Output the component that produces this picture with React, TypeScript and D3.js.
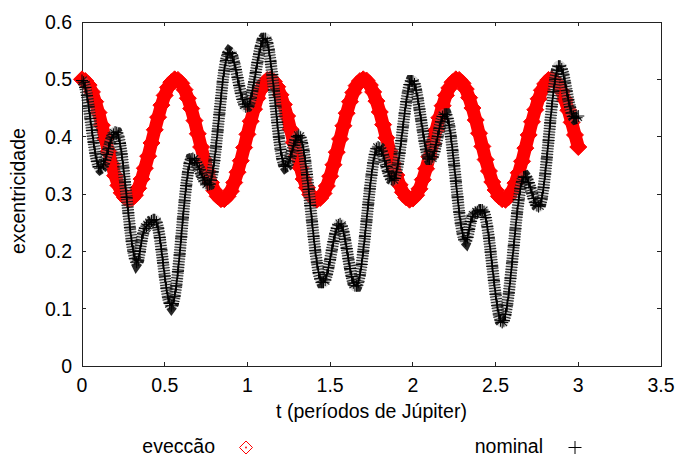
import React from 'react';
import * as d3 from 'd3';

const X_TICKS = [0, 0.5, 1, 1.5, 2, 2.5, 3, 3.5];
const Y_TICKS = [0, 0.1, 0.2, 0.3, 0.4, 0.5, 0.6];
const X_LABEL = 't (períodos de Júpiter)';
const Y_LABEL = 'excentricidade';
const SERIES_NAMES = ['eveccão', 'nominal'];

// eveccão: sampled every 0.02 from t = 0
const EVECCAO_DT = 0.02;
const EVECCAO = [
  0.500, 0.497, 0.490, 0.478, 0.461, 0.442, 0.420, 0.397, 0.374, 0.352,
  0.332, 0.315, 0.302, 0.294, 0.290, 0.292, 0.298, 0.310, 0.326, 0.345,
  0.366, 0.389, 0.412, 0.434, 0.455, 0.472, 0.486, 0.495, 0.500, 0.499,
  0.493, 0.482, 0.467, 0.449, 0.428, 0.405, 0.382, 0.359, 0.339, 0.320,
  0.306, 0.296, 0.291, 0.291, 0.296, 0.305, 0.320, 0.338, 0.358, 0.381,
  0.404, 0.427, 0.448, 0.467, 0.482, 0.493, 0.499, 0.500, 0.496, 0.487,
  0.473, 0.456, 0.436, 0.413, 0.390, 0.367, 0.346, 0.326, 0.311, 0.299,
  0.292, 0.290, 0.293, 0.301, 0.314, 0.331, 0.351, 0.373, 0.396, 0.419,
  0.441, 0.461, 0.477, 0.489, 0.497, 0.500, 0.498, 0.490, 0.478, 0.462,
  0.443, 0.421, 0.398, 0.375, 0.353, 0.333, 0.316, 0.303, 0.294, 0.290,
  0.292, 0.298, 0.309, 0.325, 0.344, 0.365, 0.388, 0.411, 0.433, 0.454,
  0.472, 0.485, 0.495, 0.500, 0.499, 0.493, 0.483, 0.468, 0.450, 0.429,
  0.406, 0.383, 0.360, 0.340, 0.321, 0.307, 0.296, 0.291, 0.290, 0.295,
  0.305, 0.319, 0.337, 0.357, 0.380, 0.403, 0.426, 0.447, 0.466, 0.481,
  0.492, 0.499, 0.500, 0.497, 0.490, 0.479, 0.464, 0.446, 0.425, 0.403,
  0.382,
];

// nominal: sampled every 0.01 from t = 0
const NOMINAL_DT = 0.01;
const NOMINAL = [
  0.498, 0.495, 0.486, 0.472, 0.453, 0.432, 0.411, 0.390, 0.371, 0.357,
  0.348, 0.345, 0.347, 0.352, 0.359, 0.369, 0.379, 0.389, 0.398, 0.404,
  0.408, 0.407, 0.401, 0.388, 0.370, 0.347, 0.321, 0.294, 0.267, 0.241,
  0.218, 0.200, 0.187, 0.181, 0.185, 0.200, 0.218, 0.232, 0.240, 0.244,
  0.247, 0.250, 0.253, 0.255, 0.255, 0.251, 0.241, 0.224, 0.203, 0.180,
  0.157, 0.136, 0.119, 0.109, 0.105, 0.109, 0.121, 0.140, 0.165, 0.194,
  0.225, 0.258, 0.288, 0.315, 0.337, 0.353, 0.361, 0.362, 0.359, 0.355,
  0.349, 0.343, 0.335, 0.329, 0.323, 0.319, 0.316, 0.317, 0.324, 0.338,
  0.358, 0.382, 0.410, 0.439, 0.467, 0.495, 0.516, 0.533, 0.543, 0.547,
  0.545, 0.539, 0.529, 0.517, 0.503, 0.489, 0.476, 0.465, 0.457, 0.452,
  0.453, 0.457, 0.467, 0.480, 0.495, 0.512, 0.529, 0.544, 0.557, 0.567,
  0.571, 0.571, 0.564, 0.551, 0.531, 0.508, 0.481, 0.453, 0.425, 0.399,
  0.378, 0.362, 0.352, 0.348, 0.350, 0.356, 0.365, 0.375, 0.385, 0.394,
  0.400, 0.402, 0.399, 0.390, 0.376, 0.357, 0.334, 0.308, 0.280, 0.253,
  0.226, 0.201, 0.180, 0.163, 0.152, 0.146, 0.146, 0.150, 0.159, 0.172,
  0.186, 0.202, 0.217, 0.230, 0.240, 0.246, 0.248, 0.244, 0.235, 0.221,
  0.205, 0.187, 0.170, 0.156, 0.145, 0.140, 0.140, 0.146, 0.159, 0.177,
  0.200, 0.226, 0.253, 0.282, 0.309, 0.333, 0.354, 0.369, 0.379, 0.382,
  0.380, 0.375, 0.368, 0.358, 0.348, 0.339, 0.331, 0.326, 0.324, 0.327,
  0.337, 0.352, 0.371, 0.393, 0.417, 0.440, 0.461, 0.478, 0.491, 0.497,
  0.497, 0.492, 0.481, 0.466, 0.448, 0.429, 0.410, 0.392, 0.377, 0.366,
  0.361, 0.361, 0.365, 0.374, 0.386, 0.400, 0.414, 0.426, 0.435, 0.439,
  0.439, 0.432, 0.419, 0.400, 0.376, 0.350, 0.322, 0.295, 0.268, 0.248,
  0.232, 0.221, 0.218, 0.224, 0.238, 0.252, 0.261, 0.265, 0.267, 0.269,
  0.271, 0.272, 0.272, 0.269, 0.259, 0.243, 0.223, 0.199, 0.174, 0.149,
  0.125, 0.105, 0.089, 0.079, 0.076, 0.079, 0.090, 0.106, 0.127, 0.153,
  0.181, 0.210, 0.239, 0.267, 0.290, 0.309, 0.322, 0.329, 0.330, 0.326,
  0.320, 0.311, 0.302, 0.292, 0.285, 0.280, 0.278, 0.282, 0.293, 0.311,
  0.335, 0.363, 0.393, 0.424, 0.453, 0.479, 0.500, 0.515, 0.523, 0.523,
  0.518, 0.509, 0.495, 0.480, 0.464, 0.452, 0.441, 0.435, 0.432, 0.433,
  0.436,
];

const W = 679;
const H = 456;
const FONT = '"Liberation Sans", Arial, Helvetica, sans-serif';

export default function App() {
  const left = 82;
  const right = 661;
  const top = 22;
  const bottom = 366;
  const x = d3.scaleLinear().domain([0, 3.5]).range([left, right]);
  const y = d3.scaleLinear().domain([0, 0.6]).range([bottom, top]);

  const evData: [number, number][] = EVECCAO.map((v, i) => [i * EVECCAO_DT, v]);
  const noData: [number, number][] = NOMINAL.map((v, i) => [i * NOMINAL_DT, v]);

  const line = d3
    .line<[number, number]>()
    .x((d) => x(d[0]))
    .y((d) => y(d[1]));

  const r = 8.5;
  const diamonds = evData
    .map((d) => {
      const cx = x(d[0]);
      const cy = y(d[1]);
      return `M${cx},${cy - r}L${cx + r},${cy}L${cx},${cy + r}L${cx - r},${cy}Z`;
    })
    .join('');

  const p = 6;
  const pluses = noData
    .map((d) => {
      const cx = x(d[0]);
      const cy = y(d[1]);
      return `M${cx - p},${cy}H${cx + p}M${cx},${cy - p}V${cy + p}`;
    })
    .join('');

  const tickLen = 4;
  const fs = 19.5;
  const noPath = line(noData) || '';

  return (
    <svg
      width={W}
      height={H}
      style={{ position: 'absolute', left: 0, top: 0, background: '#fff' }}
      fontFamily={FONT}
    >
      <rect x={0} y={0} width={W} height={H} fill="#fff" />
      {/* ticks */}
      <g stroke="#222" strokeWidth={1} shapeRendering="crispEdges">
        {X_TICKS.map((t) => (
          <g key={'xt' + t}>
            <line x1={x(t)} x2={x(t)} y1={bottom} y2={bottom - tickLen} />
            <line x1={x(t)} x2={x(t)} y1={top} y2={top + tickLen} />
          </g>
        ))}
        {Y_TICKS.map((t) => (
          <g key={'yt' + t}>
            <line x1={left} x2={left + tickLen} y1={y(t)} y2={y(t)} />
            <line x1={right} x2={right - tickLen} y1={y(t)} y2={y(t)} />
          </g>
        ))}
        <rect x={left} y={top} width={right - left} height={bottom - top} fill="none" />
      </g>
      {/* tick labels */}
      <g fontSize={fs} fill="#000">
        {X_TICKS.map((t) => (
          <text key={'xl' + t} x={x(t)} y={bottom + 26} textAnchor="middle">
            {String(t)}
          </text>
        ))}
        {Y_TICKS.map((t) => (
          <text key={'yl' + t} x={left - 10} y={y(t) + 7} textAnchor="end">
            {String(t)}
          </text>
        ))}
        <text x={(left + right) / 2} y={418} textAnchor="middle">
          {X_LABEL}
        </text>
        <text transform={`translate(25,${(top + bottom) / 2 - 3}) rotate(-90)`} textAnchor="middle">
          {Y_LABEL}
        </text>
      </g>
      {/* eveccão series */}
      <path d={line(evData) || ''} fill="none" stroke="#ff0000" strokeWidth={13} strokeLinejoin="round" />
      <path d={diamonds} fill="#ff0000" stroke="#ff0000" strokeWidth={1} />
      {/* nominal series */}
      <path d={noPath} fill="none" stroke="#8a8a8a" strokeWidth={11} strokeLinejoin="round" opacity={0.35} />
      <path d={noPath} fill="none" stroke="#111" strokeWidth={12} strokeDasharray="1.1 1.7" opacity={0.9} />
      <path d={pluses} fill="none" stroke="#000" strokeWidth={1} />
      <path d={noPath} fill="none" stroke="#000" strokeWidth={1.8} />
      {/* legend */}
      <g fontSize={fs} fill="#000">
        <text x={215} y={453} textAnchor="end">
          {SERIES_NAMES[0]}
        </text>
        <path d="M246,441L252.5,447.5L246,454L239.5,447.5Z" fill="none" stroke="#ff0000" strokeWidth={1} />
        <circle cx={246} cy={447.5} r={0.9} fill="#ff0000" />
        <text x={543} y={453} textAnchor="end">
          {SERIES_NAMES[1]}
        </text>
        <path d="M568.5,447.5H581.5M575,441V454" stroke="#000" strokeWidth={1} />
      </g>
    </svg>
  );
}
